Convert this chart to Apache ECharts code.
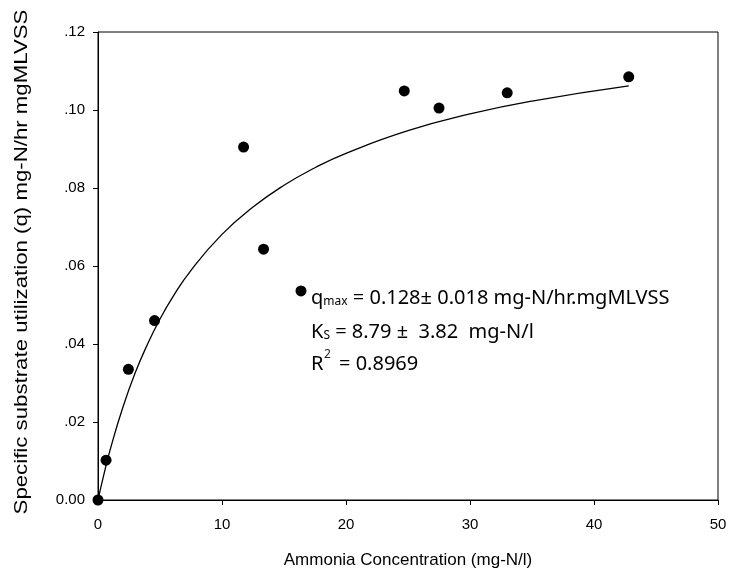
<!DOCTYPE html>
<html>
<head>
<meta charset="utf-8">
<script src="https://cdn.jsdelivr.net/npm/echarts@6/dist/echarts.min.js"></script>
<style>html,body{margin:0;padding:0;background:#fff}#c{width:730px;height:577px}</style>
</head>
<body>
<div id="c"></div>
<script>
// Observed data (ammonia concentration mg-N/l, specific utilization q)
var ammonia = [0, 0.65, 2.45, 4.56, 11.74, 13.35, 16.37, 24.7, 27.5, 33.0, 42.8];
var qObserved = [0, 0.0102, 0.0335, 0.0460, 0.0905, 0.0643, 0.0536, 0.1049, 0.1005, 0.1044, 0.1085];
// Fitted curve
var curveX = [0, 0.5, 1, 2, 3, 4, 5, 6, 7.5, 10, 12.5, 15, 17.5, 20, 25, 30, 35, 42.8];
var curveY = [0, 0.0069, 0.0131, 0.0237, 0.0326, 0.0400, 0.0464, 0.0519, 0.0589, 0.0681, 0.0751, 0.0807, 0.0852, 0.0889, 0.0947, 0.0990, 0.1023, 0.1062];
var xTicks = [0, 10, 20, 30, 40, 50];
var yTickLabels = {"0": "0.00", "0.02": ".02", "0.04": ".04", "0.06": ".06", "0.08": ".08", "0.1": ".10", "0.12": ".12"};
var xTitle = 'Ammonia Concentration (mg-N/l)';
var yTitle = 'Specific substrate utilization (q) mg-N/hr mgMLVSS';
var line1 = "{q|q}{sub|max}{t| = 0.128± 0.018 mg-N/hr.mgMLVSS}";
var line2 = "{q|K}{sub|S}{t| = 8.79 ±  3.82  mg-N/l}";
var line3a = "R", line3sup = "2", line3b = "= 0.8969";

var chart = echarts.init(document.getElementById('c'), null, {renderer: 'canvas'});
var pts = ammonia.map(function (x, i) { return [x, qObserved[i]]; });
var curve = curveX.map(function (x, i) { return [x, curveY[i]]; });
var af = 'Noto Sans';
var richStyle = {
  q: {fontSize: 20, fontFamily: af, color: '#222', lineHeight: 30, verticalAlign: 'bottom'},
  t: {fontSize: 20, fontFamily: af, color: '#222', lineHeight: 30, verticalAlign: 'bottom'},
  sub: {fontSize: 12, fontFamily: af, color: '#222', lineHeight: 18, verticalAlign: 'bottom'}
};
var tickFont = {fontFamily: 'Liberation Sans', fontSize: 15, color: '#000'};
var graphics = [
  {type: 'text', left: 311, top: 288, z: 10, style: {text: line1, rich: richStyle}},
  {type: 'text', left: 311, top: 322, z: 10, style: {text: line2, rich: richStyle}},
  {type: 'text', left: 311, top: 354, z: 10, style: {text: '{t|' + line3a + '}', rich: richStyle}},
  {type: 'text', left: 324, top: 349, z: 10, style: {text: line3sup, fontFamily: af, fontSize: 12, fill: '#222'}},
  {type: 'text', left: 339, top: 354, z: 10, style: {text: '{t|' + line3b + '}', rich: richStyle}},
  {type: 'text', x: 22, y: 262, rotation: Math.PI / 2, scaleX: 1.17, z: 10,
   style: {text: yTitle, fontFamily: 'Liberation Sans', fontSize: 19, fill: '#000',
           align: 'center', verticalAlign: 'middle'}}
];
chart.setOption({
  animation: false,
  backgroundColor: '#fff',
  grid: {left: 98, right: 12, top: 32, bottom: 77, show: true, borderColor: '#000', borderWidth: 1},
  xAxis: {
    type: 'value', min: xTicks[0], max: xTicks[xTicks.length - 1], interval: 10,
    name: xTitle, nameLocation: 'middle', nameGap: 52,
    nameTextStyle: {fontFamily: 'Liberation Sans', fontSize: 17, color: '#000'},
    axisLine: {lineStyle: {color: '#000', width: 1}},
    axisTick: {show: true, length: 5, lineStyle: {color: '#000'}},
    axisLabel: Object.assign({margin: 17}, tickFont),
    splitLine: {show: false}
  },
  yAxis: {
    type: 'value', min: 0, max: 0.12, interval: 0.02,
    axisLine: {lineStyle: {color: '#000', width: 1}},
    axisTick: {show: true, length: 5, lineStyle: {color: '#000'}},
    axisLabel: Object.assign({margin: 13, formatter: function (v) {
      var k = String(Math.round(v * 100) / 100);
      return yTickLabels[k] !== undefined ? yTickLabels[k] : k;
    }}, tickFont),
    splitLine: {show: false}
  },
  series: [
    {type: 'line', data: curve, smooth: true, showSymbol: false, symbol: 'none',
     lineStyle: {color: '#000', width: 1.3}, z: 2},
    {type: 'scatter', data: pts, symbol: 'circle', symbolSize: 11,
     itemStyle: {color: '#000', opacity: 1}, z: 3}
  ],
  graphic: graphics
});
</script>
</body>
</html>
